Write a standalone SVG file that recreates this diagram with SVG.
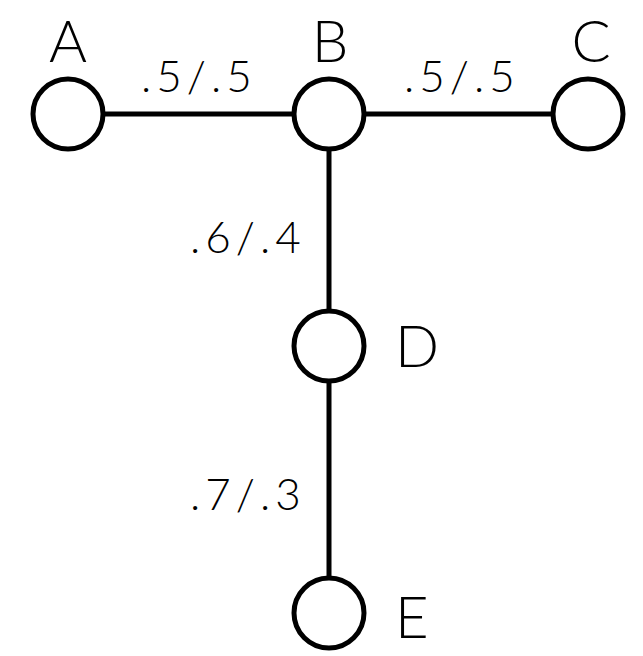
<svg xmlns="http://www.w3.org/2000/svg" width="643" height="656" viewBox="0 0 643 656">
  <style>
    .node circle { fill: #ffffff; stroke: #000000; stroke-width: 5; }
    .edge { stroke: #000000; stroke-width: 5; fill: none; }
    .name { font-family: "Lato", "Open Sans", "DejaVu Sans", sans-serif; font-weight: 300; font-size: 58px; fill: #000000; }
    .prob { font-family: "Lato", "Open Sans", "DejaVu Sans", sans-serif; font-weight: 300; font-size: 44px; letter-spacing: 5px; fill: #000000; }
  </style>
  <rect width="643" height="656" fill="#ffffff"/>

  <!-- connectors -->
  <g id="edges">
    <line class="edge" x1="103" y1="114" x2="294" y2="114"/>
    <line class="edge" x1="364" y1="114" x2="553" y2="114"/>
    <line class="edge" x1="329" y1="149" x2="329" y2="311"/>
    <line class="edge" x1="329" y1="381" x2="329" y2="578"/>
    <text class="prob" x="141" y="92">.5/.5</text>
    <text class="prob" x="404" y="92">.5/.5</text>
    <text class="prob" x="190" y="253">.6/.4</text>
    <text class="prob" x="190" y="510">.7/.3</text>
  </g>

  <!-- nodes -->
  <g id="A" class="node">
    <circle cx="68" cy="114" r="35"/>
    <text class="name" x="68" y="62" text-anchor="middle">A</text>
  </g>
  <g id="B" class="node">
    <circle cx="329" cy="114" r="35"/>
    <text class="name" x="330" y="62" text-anchor="middle">B</text>
  </g>
  <g id="C" class="node">
    <circle cx="588" cy="114" r="35"/>
    <text class="name" x="591" y="62" text-anchor="middle">C</text>
  </g>
  <g id="D" class="node">
    <circle cx="329" cy="346" r="35"/>
    <text class="name" x="395" y="367">D</text>
  </g>
  <g id="E" class="node">
    <circle cx="329" cy="613" r="35"/>
    <text class="name" x="395" y="638">E</text>
  </g>
</svg>
